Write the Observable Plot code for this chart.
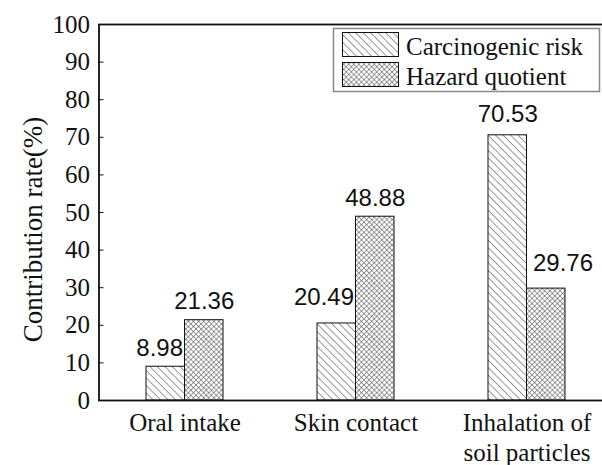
<!DOCTYPE html>
<html>
<head>
<meta charset="utf-8">
<script src="https://cdn.jsdelivr.net/npm/d3@7"></script>
<script src="https://cdn.jsdelivr.net/npm/@observablehq/plot@0.6"></script>
<style>
  html, body { margin: 0; padding: 0; background: #fff; overflow: hidden; }
</style>
</head>
<body>
<div id="chart"></div>
<script>
const categories = ["Oral intake", "Skin contact", "Inhalation of\nsoil particles"];
const seriesNames = ["Carcinogenic risk", "Hazard quotient"];
const carcinogenic = [8.98, 20.49, 70.53];
const hazard = [21.36, 48.88, 29.76];
const yTicks = [0, 10, 20, 30, 40, 50, 60, 70, 80, 90, 100];
const yLabel = "Contribution rate(%)";

const carcData = categories.map((c, i) => ({category: c, value: carcinogenic[i]}));
const hazData = categories.map((c, i) => ({category: c, value: hazard[i]}));

const serif = "'Liberation Serif', 'Times New Roman', serif";
const sans = "'Liberation Sans', Arial, sans-serif";
const ink = "#111";
const fmt = d => d.value.toFixed(2);
const lbl = {x: "category", y: "value", text: fmt, lineAnchor: "bottom", fontFamily: sans, fontSize: 24, fill: ink};

const svg = Plot.plot({
  width: 602,
  height: 465,
  marginLeft: 98.5,
  marginRight: -9.5,
  marginTop: 24,
  marginBottom: 65,
  style: {fontFamily: serif, fontSize: "25px", background: "#fff", color: ink, overflow: "hidden"},
  x: {domain: categories, paddingInner: 0.55, paddingOuter: 0.275, axis: null},
  y: {domain: [0, 100], axis: null},
  marks: [
    Plot.barY(carcData, {x: "category", y: "value", fill: "url(#diag)", stroke: ink, strokeWidth: 1, insetRight: 38.5}),
    Plot.barY(hazData, {x: "category", y: "value", fill: "url(#cross)", stroke: ink, strokeWidth: 1, insetLeft: 38.5}),
    // value labels (placed as in the reference)
    Plot.text(carcData, {...lbl, filter: (d, i) => i === 0, textAnchor: "end", dx: -2, dy: -11}),
    Plot.text(carcData, {...lbl, filter: (d, i) => i === 1, textAnchor: "end", dx: -2, dy: -18}),
    Plot.text(carcData, {...lbl, filter: (d, i) => i === 2, dx: -19.25, dy: -13}),
    Plot.text(hazData, {...lbl, filter: (d, i) => i < 2, dx: 19.25, dy: -11}),
    Plot.text(hazData, {...lbl, filter: (d, i) => i === 2, textAnchor: "start", dx: 6, dy: -18}),
    Plot.frame({stroke: ink, strokeWidth: 1.8}),
    Plot.axisY({ticks: yTicks, tickSize: 0, tickPadding: 9, label: null, fontSize: 25}),
    Plot.axisY({ticks: yTicks, tickSize: 5, dx: 5, tickFormat: () => "", label: null, stroke: ink}),
    Plot.axisX({tickSize: 0, tickPadding: 9, label: null, lineHeight: 1.2, fontSize: 25}),
    Plot.text([yLabel], {frameAnchor: "left", textAnchor: "middle", lineAnchor: "middle", rotate: -90, dx: -66, dy: 17, fontSize: 27, fill: ink})
  ]
});

const s = d3.select(svg);
const defs = s.insert("defs", ":first-child");
const p1 = defs.append("pattern").attr("id", "diag").attr("patternUnits", "userSpaceOnUse")
  .attr("width", 5.3).attr("height", 5.3).attr("patternTransform", "rotate(-45)");
p1.append("rect").attr("width", 5.3).attr("height", 5.3).attr("fill", "#fff");
p1.append("line").attr("x1", 0).attr("y1", 0).attr("x2", 0).attr("y2", 5.3).attr("stroke", "#333").attr("stroke-width", 1);
const p2 = defs.append("pattern").attr("id", "cross").attr("patternUnits", "userSpaceOnUse")
  .attr("width", 3.6).attr("height", 3.6).attr("patternTransform", "rotate(45)");
p2.append("rect").attr("width", 3.6).attr("height", 3.6).attr("fill", "#fff");
p2.append("line").attr("x1", 0).attr("y1", 0).attr("x2", 0).attr("y2", 3.6).attr("stroke", "#333").attr("stroke-width", 0.9);
p2.append("line").attr("x1", 0).attr("y1", 0).attr("x2", 3.6).attr("y2", 0).attr("stroke", "#333").attr("stroke-width", 0.9);

// legend inside the plot area
const lg = s.append("g").attr("font-family", serif).attr("font-size", 25).attr("fill", ink)
  .attr("text-anchor", "start");
lg.append("rect").attr("x", 333.5).attr("y", 28.5).attr("width", 266).attr("height", 63)
  .attr("fill", "#fff").attr("stroke", "#888").attr("stroke-width", 1.5);
const fills = ["url(#diag)", "url(#cross)"];
seriesNames.forEach((name, i) => {
  const y0 = 32.5 + i * 30;
  lg.append("rect").attr("x", 342.5).attr("y", y0).attr("width", 56).attr("height", 24)
    .attr("fill", fills[i]).attr("stroke", ink).attr("stroke-width", 1);
  lg.append("text").attr("x", 406).attr("y", y0 + 22).attr("text-anchor", "start").text(name);
});

document.getElementById("chart").appendChild(svg);
</script>
</body>
</html>
